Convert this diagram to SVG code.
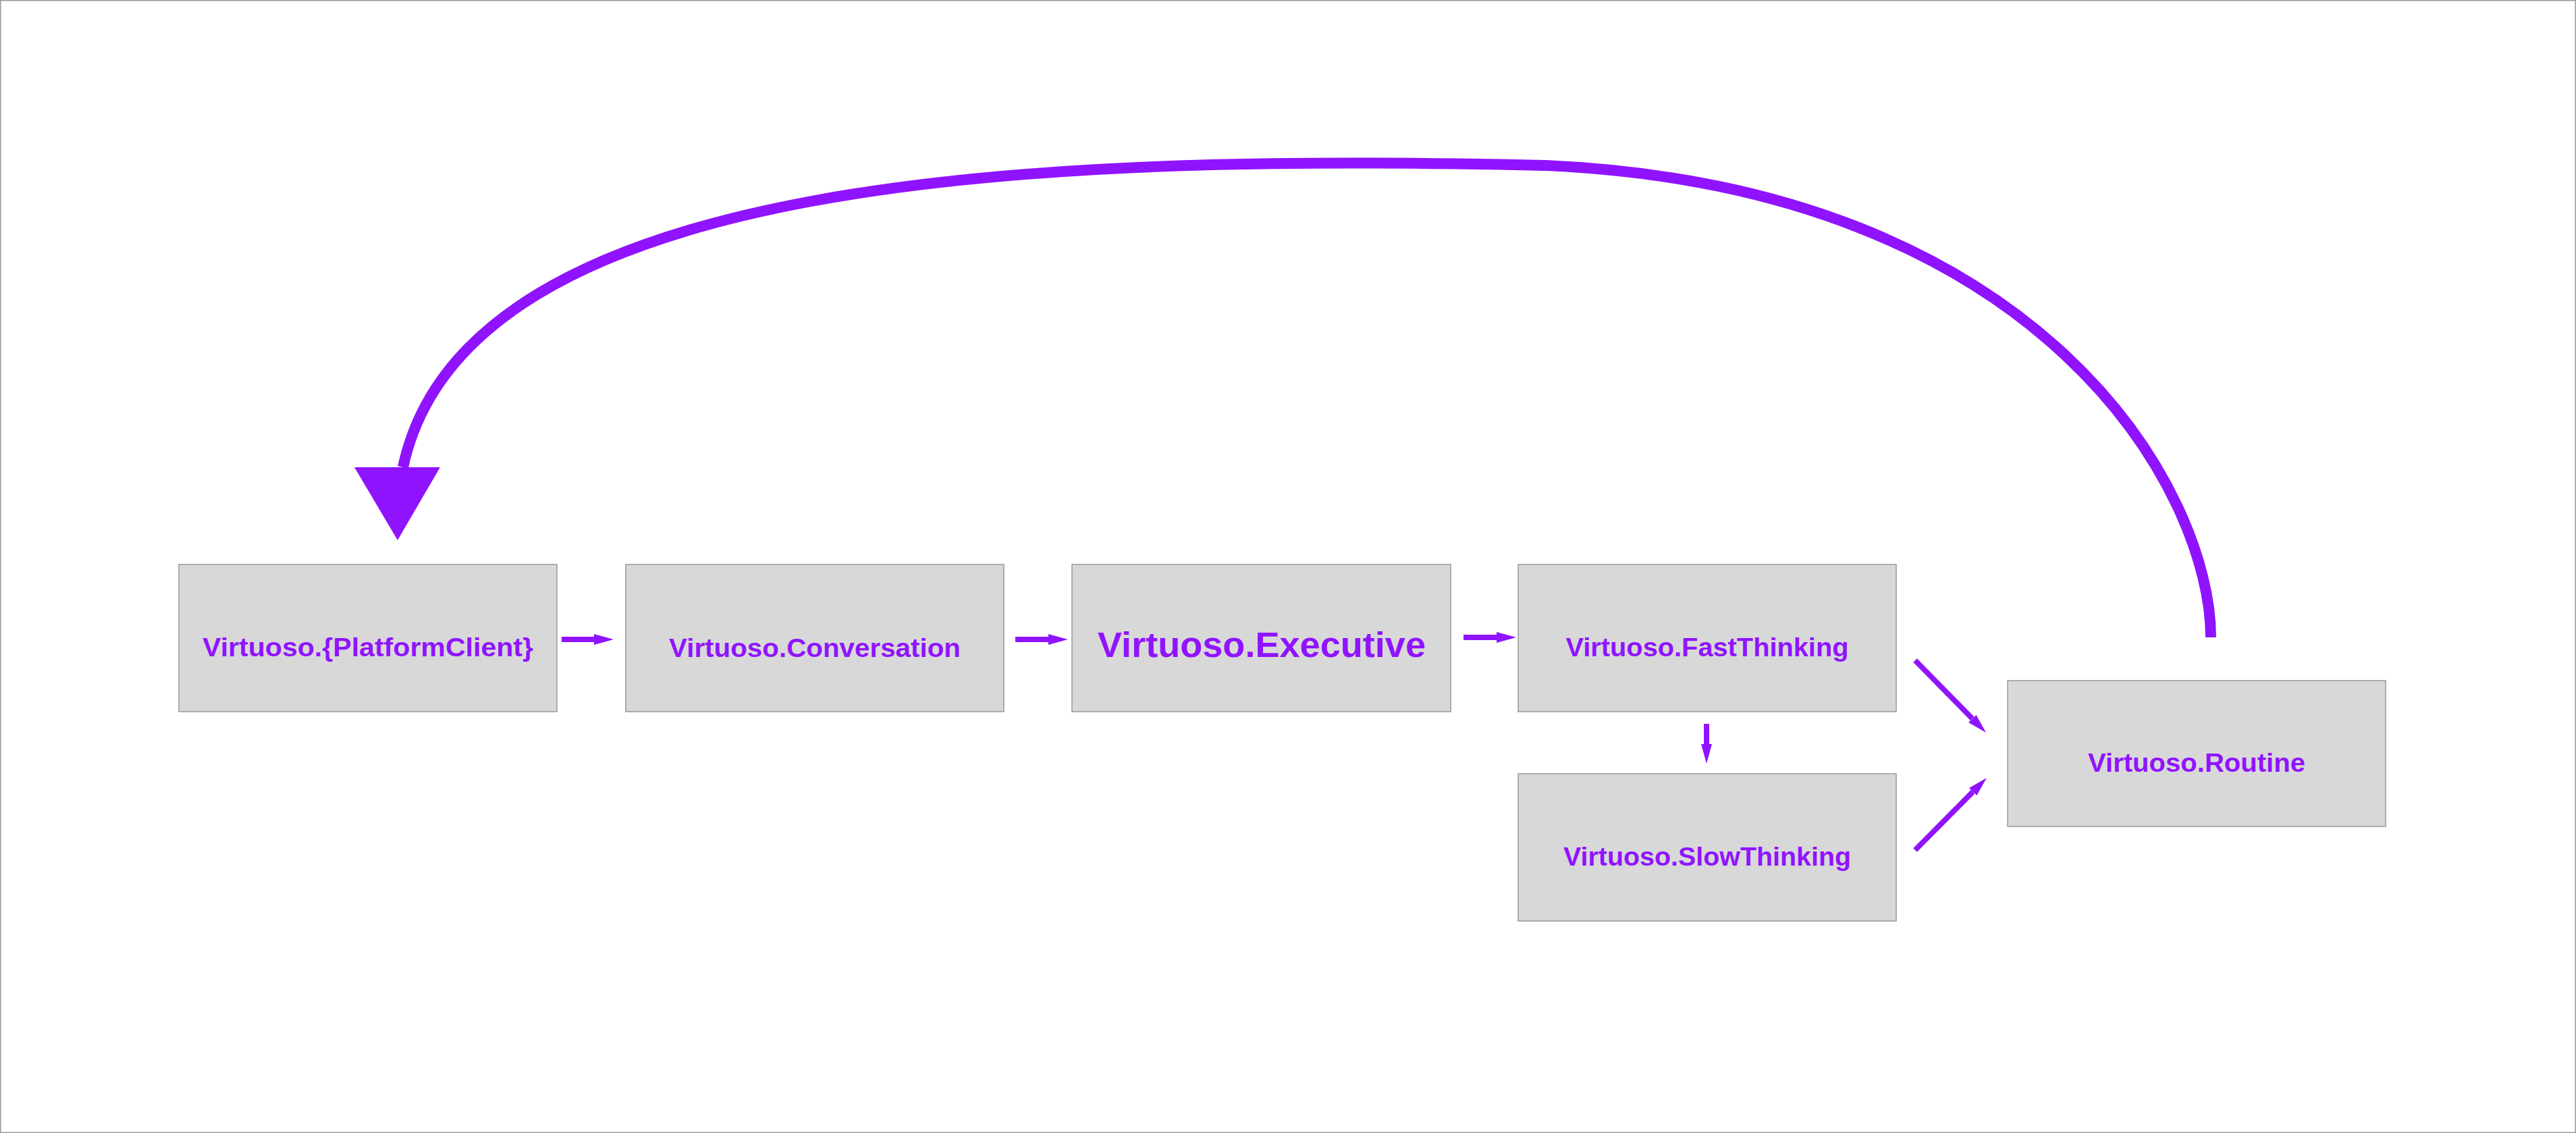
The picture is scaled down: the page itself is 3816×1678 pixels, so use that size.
<svg xmlns="http://www.w3.org/2000/svg" width="3816" height="1678" viewBox="0 0 3816 1678">
<style>
.node rect{fill:#D8D8D8;stroke:#999999;stroke-width:1.5}
.node text{fill:#9013FE;font-family:"Liberation Sans",Arial,sans-serif;font-weight:bold;font-size:38px;text-anchor:middle}
.node text.big{font-size:51px}
.conn{stroke:#9013FE;fill:none}
.small{stroke-width:8}
</style>
<defs>
<marker id="ah" markerUnits="userSpaceOnUse" markerWidth="30" markerHeight="16" refX="0" refY="8" orient="auto" viewBox="0 0 30 16">
<path d="M0,0 L29,8 L0,16 z" fill="#9013FE"/>
</marker>
</defs>
<rect x="0.75" y="0.75" width="3814.5" height="1676.5" fill="#FFFFFF" stroke="#999999" stroke-width="1.5"/>
<g id="connectors">
<line class="conn small" x1="832" y1="947" x2="880" y2="947" marker-end="url(#ah)"/>
<line class="conn small" x1="1504" y1="947" x2="1553" y2="947" marker-end="url(#ah)"/>
<line class="conn small" x1="2168" y1="944" x2="2217" y2="944" marker-end="url(#ah)"/>
<line class="conn small" x1="2528" y1="1072" x2="2528" y2="1102" marker-end="url(#ah)"/>
<line class="conn small" x1="2837" y1="978" x2="2921.7" y2="1064.3" marker-end="url(#ah)"/>
<line class="conn small" x1="2837" y1="1259" x2="2922.6" y2="1172.6" marker-end="url(#ah)"/>
<path class="conn" stroke-width="16" d="M3275,944 C3275,730 3030,278 2290,245 C1550,228 690,255 597,692"/>
<polygon points="525,692 652,692 589,800" fill="#9013FE"/>
</g>
<g id="node-platformclient" class="node">
<rect x="265" y="836" width="560" height="218"/>
<text x="545" y="972" textLength="490" lengthAdjust="spacingAndGlyphs">Virtuoso.{PlatformClient}</text>
</g>
<g id="node-conversation" class="node">
<rect x="927" y="836" width="560" height="218"/>
<text x="1207" y="973" textLength="432" lengthAdjust="spacingAndGlyphs">Virtuoso.Conversation</text>
</g>
<g id="node-executive" class="node">
<rect x="1588" y="836" width="561" height="218"/>
<text class="big" x="1869" y="973" textLength="486" lengthAdjust="spacingAndGlyphs">Virtuoso.Executive</text>
</g>
<g id="node-fastthinking" class="node">
<rect x="2249" y="836" width="560" height="218"/>
<text x="2529" y="972" textLength="419" lengthAdjust="spacingAndGlyphs">Virtuoso.FastThinking</text>
</g>
<g id="node-slowthinking" class="node">
<rect x="2249" y="1146" width="560" height="218"/>
<text x="2529" y="1282" textLength="426" lengthAdjust="spacingAndGlyphs">Virtuoso.SlowThinking</text>
</g>
<g id="node-routine" class="node">
<rect x="2974" y="1008" width="560" height="216"/>
<text x="3254" y="1143" textLength="322" lengthAdjust="spacingAndGlyphs">Virtuoso.Routine</text>
</g>
</svg>
